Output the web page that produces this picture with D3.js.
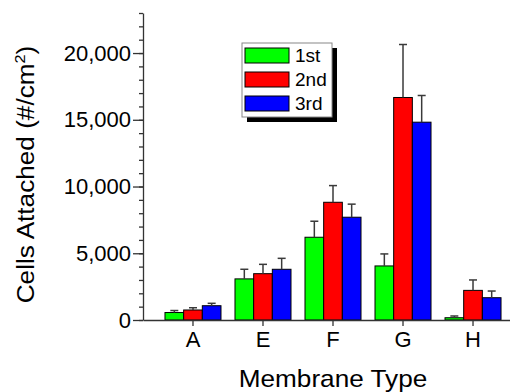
<!DOCTYPE html>
<html>
<head>
<meta charset="utf-8">
<script src="https://cdnjs.cloudflare.com/ajax/libs/d3/7.8.5/d3.min.js"></script>
<style>
  body { margin: 0; background: #fff; }
  svg { display: block; font-family: "Liberation Sans", Arial, sans-serif; }
</style>
</head>
<body>
<div id="chart"></div>
<script>
// membrane types and rounds
var categories = ["A", "E", "F", "G", "H"];
var series = ["1st", "2nd", "3rd"];
var colors = ["#00ff00", "#ff0000", "#0000ff"];

// cells attached per round (mean, upper error)
var first = [560, 3080, 6200, 4050, 170];
var firstErr = [150, 720, 1200, 900, 130];
var second = [750, 3470, 8820, 16670, 2220];
var secondErr = [170, 700, 1250, 3970, 780];
var third = [1070, 3800, 7700, 14820, 1670];
var thirdErr = [180, 820, 980, 2000, 500];

var yTicks = [0, 5000, 10000, 15000, 20000];

var width = 510,
    height = 392;

var values = [first, second, third];
var errors = [firstErr, secondErr, thirdErr];

var svg = d3.select("#chart")
    .append("svg")
    .attr("width", width)
    .attr("height", height);

var x0 = d3.scaleBand()
    .domain(categories)
    .range([143, 523])
    .paddingInner(0.2)
    .paddingOuter(0.314);

var x1 = d3.scaleBand()
    .domain(series)
    .range([0, x0.bandwidth()]);

var y = d3.scaleLinear()
    .domain([0, 23000])
    .range([320, 13]);

// bars
var groups = svg.append("g")
    .selectAll("g")
    .data(categories)
    .enter()
    .append("g")
    .attr("transform", function(d) { return "translate(" + x0(d) + ",0)"; });

groups.selectAll("rect")
    .data(function(d, i) {
        return series.map(function(s, j) {
            return { s: s, j: j, v: values[j][i], e: errors[j][i] };
        });
    })
    .enter()
    .append("rect")
    .attr("x", function(d) { return x1(d.s); })
    .attr("y", function(d) { return y(d.v); })
    .attr("width", x1.bandwidth())
    .attr("height", function(d) { return y(0) - y(d.v); })
    .attr("fill", function(d) { return colors[d.j]; })
    .attr("stroke", "#000")
    .attr("stroke-width", 1);

// error bars (upper only)
var err = groups.selectAll("g.err")
    .data(function(d, i) {
        return series.map(function(s, j) {
            return { s: s, v: values[j][i], e: errors[j][i] };
        });
    })
    .enter()
    .append("g")
    .attr("class", "err")
    .attr("stroke", "#3a3a3a")
    .attr("stroke-width", 1.5);

err.append("line")
    .attr("x1", function(d) { return x1(d.s) + x1.bandwidth() / 2; })
    .attr("x2", function(d) { return x1(d.s) + x1.bandwidth() / 2; })
    .attr("y1", function(d) { return y(d.v); })
    .attr("y2", function(d) { return y(d.v + d.e); });

err.append("line")
    .attr("x1", function(d) { return x1(d.s) + x1.bandwidth() / 2 - 4; })
    .attr("x2", function(d) { return x1(d.s) + x1.bandwidth() / 2 + 4; })
    .attr("y1", function(d) { return y(d.v + d.e); })
    .attr("y2", function(d) { return y(d.v + d.e); });

// y axis
var yAxis = svg.append("g")
    .attr("transform", "translate(143,0)")
    .call(d3.axisLeft(y).tickValues(yTicks).tickSize(10).tickSizeOuter(0).tickFormat(d3.format(",")));

svg.append("g")
    .attr("transform", "translate(143,0)")
    .call(d3.axisLeft(y).ticks(23).tickSize(4).tickSizeOuter(0).tickFormat(""))
    .select(".domain").remove();

yAxis.selectAll("text")
    .attr("x", -12)
    .style("font-size", "22px")
    .style("font-family", "Liberation Sans, Arial, sans-serif")
    .attr("fill", "#000");

// x axis
var xAxis = svg.append("g")
    .attr("transform", "translate(0,320)")
    .call(d3.axisBottom(x0).tickSize(6).tickSizeOuter(0));

xAxis.selectAll("text")
    .attr("y", 11)
    .style("font-size", "22px")
    .style("font-family", "Liberation Sans, Arial, sans-serif")
    .attr("fill", "#000");

svg.selectAll(".domain, .tick line")
    .attr("stroke", "#333")
    .attr("stroke-width", 1.3);

// axis titles
svg.append("text")
    .attr("transform", "translate(" + ((x0.range()[0] + x0.range()[1]) / 2) + ",387) scale(1.09,1)")
    .attr("text-anchor", "middle")
    .style("font-size", "24px")
    .text("Membrane Type");

var yTitle = svg.append("text")
    .attr("transform", "translate(34,174.5) rotate(-90) scale(1.09,1)")
    .attr("text-anchor", "middle")
    .style("font-size", "24px");

yTitle.append("tspan").text("Cells Attached (#/cm");
yTitle.append("tspan")
    .attr("dy", "-9")
    .style("font-size", "15px")
    .text("2");
yTitle.append("tspan")
    .attr("dy", "9")
    .text(")");

// legend
var legend = svg.append("g")
    .attr("transform", "translate(242,43)");

legend.append("rect")
    .attr("x", 5)
    .attr("y", 5)
    .attr("width", 90)
    .attr("height", 74)
    .attr("fill", "#000");

legend.append("rect")
    .attr("width", 90)
    .attr("height", 74)
    .attr("fill", "#fff")
    .attr("stroke", "#888")
    .attr("stroke-width", 1);

var items = legend.selectAll("g.item")
    .data(series)
    .enter()
    .append("g")
    .attr("class", "item")
    .attr("transform", function(d, i) { return "translate(0," + (5 + i * 24) + ")"; });

items.append("rect")
    .attr("x", 3)
    .attr("width", 44)
    .attr("height", 15)
    .attr("fill", function(d, i) { return colors[i]; })
    .attr("stroke", "#000")
    .attr("stroke-width", 1);

items.append("text")
    .attr("x", 53)
    .attr("y", 14)
    .style("font-size", "19px")
    .text(function(d) { return d; });
</script>
</body>
</html>
